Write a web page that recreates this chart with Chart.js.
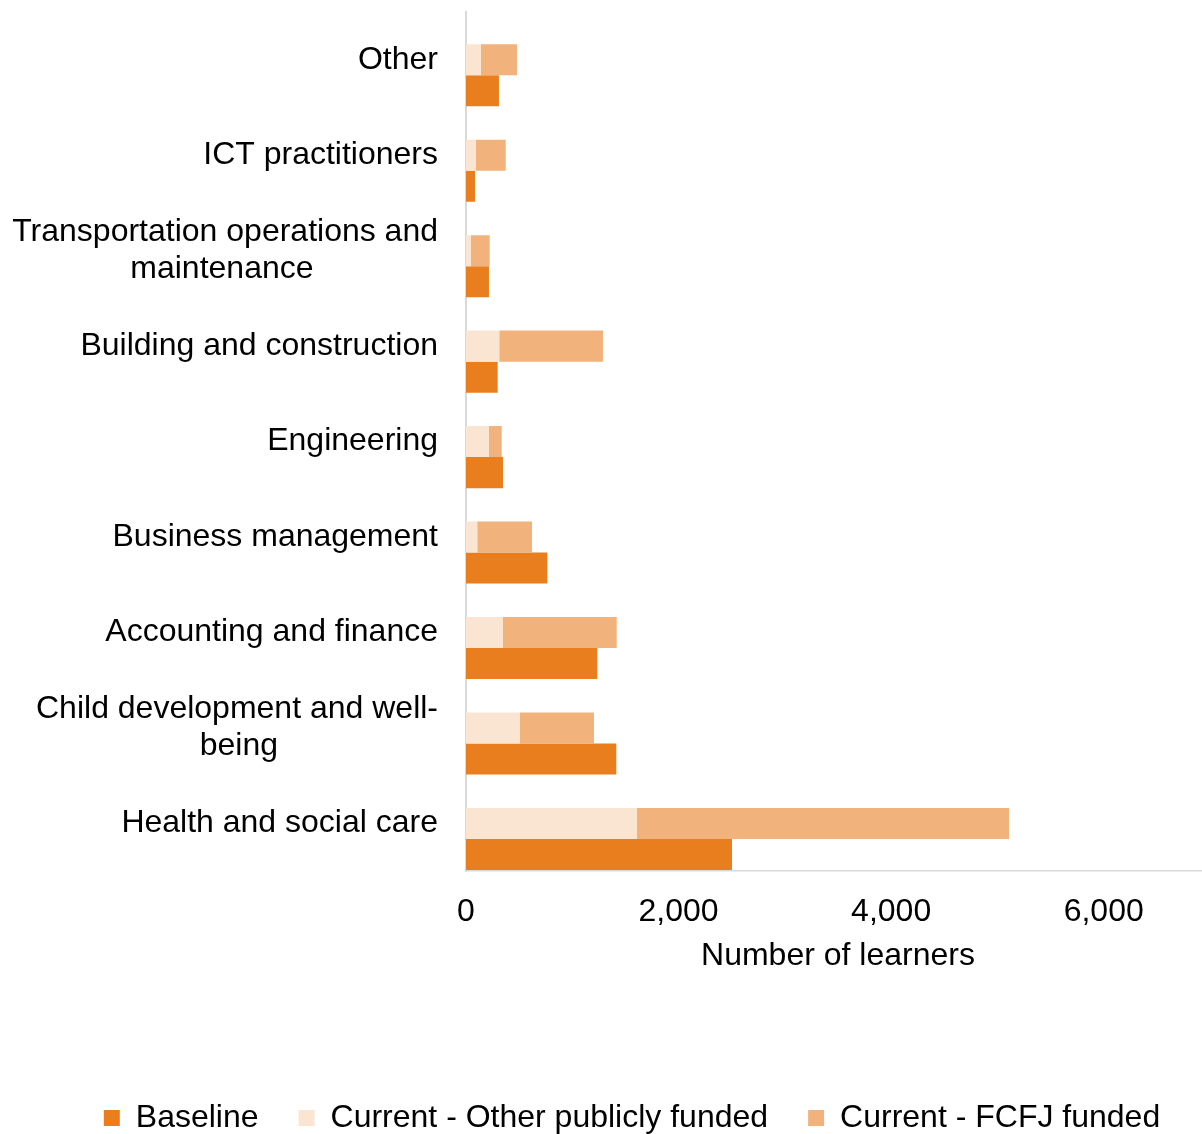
<!DOCTYPE html>
<html>
<head>
<meta charset="utf-8">
<script src="https://cdn.jsdelivr.net/npm/chart.js@4.4.1/dist/chart.umd.min.js"></script>
<style>
  html, body { margin: 0; padding: 0; background: #fff; overflow: hidden; }
  #wrap { width: 1212px; height: 1134px; }
</style>
</head>
<body>
<div id="wrap"><canvas id="learnersChart"></canvas></div>
<script>
const categories = [
  "Other",
  "ICT practitioners",
  ["Transportation operations and", "maintenance"],
  "Building and construction",
  "Engineering",
  "Business management",
  "Accounting and finance",
  ["Child development and well-", "being"],
  "Health and social care",
];
const baseline = [310, 85, 216, 298, 348, 765, 1235, 1414, 2503];
const currentOtherPublic = [141, 94, 47, 313, 214, 106, 348, 508, 1609];
const currentFcfj = [339, 280, 176, 976, 122, 515, 1070, 696, 3500];
const xTicks = [0, 2000, 4000, 6000];

const FONT = "'Liberation Sans', Arial, sans-serif";

// centre the lines of a wrapped label under its longest line (labels are right aligned)
function centreLines(label) {
  if (!Array.isArray(label)) return label;
  const ctx = document.createElement("canvas").getContext("2d");
  ctx.font = "32px " + FONT;
  const widths = label.map((l) => ctx.measureText(l).width);
  const maxW = Math.max(...widths);
  const sp = ctx.measureText(" ").width;
  return label.map((l, i) => l + " ".repeat(Math.round((maxW - widths[i]) / 2 / sp)));
}

// legend sits a little right of the canvas centre in the original
const legendShift = {
  id: "legendShift",
  afterLayout(chart) {
    chart.legend.left += 27;
    chart.legend.right += 27;
  },
};

function createLearnersChart(canvasId) {
  const canvas = document.getElementById(canvasId);
  if (!canvas) {
    console.error(`Canvas element with id "${canvasId}" not found.`);
    return;
  }
  Chart.defaults.font.family = FONT;
  Chart.defaults.font.size = 32;
  Chart.defaults.color = "#000";

  const legendRank = { "Baseline": 0, "Current - Other publicly funded": 1, "Current - FCFJ funded": 2 };

  new Chart(canvas, {
    type: "bar",
    data: {
      labels: categories.map(centreLines),
      datasets: [
        {
          // empty slot above the current bars, as in the original layout
          label: "",
          data: categories.map(() => 0),
          stack: "pad",
          backgroundColor: "rgba(0,0,0,0)",
        },
        {
          label: "Current - Other publicly funded",
          data: currentOtherPublic,
          stack: "current",
          backgroundColor: "#FAE5D3",
        },
        {
          label: "Current - FCFJ funded",
          data: currentFcfj,
          stack: "current",
          backgroundColor: "#F2B27B",
        },
        {
          label: "Baseline",
          data: baseline,
          stack: "baseline",
          backgroundColor: "#E87E1E",
        },
      ],
    },
    options: {
      indexAxis: "y",
      responsive: true,
      maintainAspectRatio: false,
      animation: false,
      datasets: {
        bar: { categoryPercentage: 0.975, barPercentage: 1.0, borderWidth: 0 },
      },
      layout: { padding: { top: 12, left: 0, right: 2, bottom: -10 } },
      plugins: {
        tooltip: { enabled: false },
        legend: {
          position: "bottom",
          labels: {
            boxWidth: 16,
            boxHeight: 16,
            padding: 40,
            filter: (item) => item.text !== "",
            sort: (a, b) => legendRank[a.text] - legendRank[b.text],
          },
        },
      },
      scales: {
        x: {
          stacked: true,
          min: 0,
          max: 7000,
          grid: { display: false, drawTicks: false },
          border: { display: true, color: "#d9d9d9", width: 1.5 },
          ticks: {
            padding: 22,
            callback: (v) => v.toLocaleString("en-US"),
          },
          afterBuildTicks: (scale) => {
            scale.ticks = xTicks.map((v) => ({ value: v }));
          },
          afterFit: (scale) => {
            scale.paddingLeft = 0;
            scale.paddingRight = 0;
          },
          title: {
            display: true,
            text: "Number of learners",
            padding: { top: -17, bottom: 87 },
          },
        },
        y: {
          stacked: true,
          grid: { display: false, drawTicks: false },
          border: { display: true, color: "#d9d9d9", width: 2 },
          ticks: { padding: 28, autoSkip: false, font: { lineHeight: 1.15 } },
          afterFit: (scale) => {
            scale.width = 466;
            scale.paddingTop = 0;
            scale.paddingBottom = 0;
          },
        },
      },
    },
    plugins: [legendShift],
  });
}
createLearnersChart("learnersChart");
</script>
</body>
</html>
